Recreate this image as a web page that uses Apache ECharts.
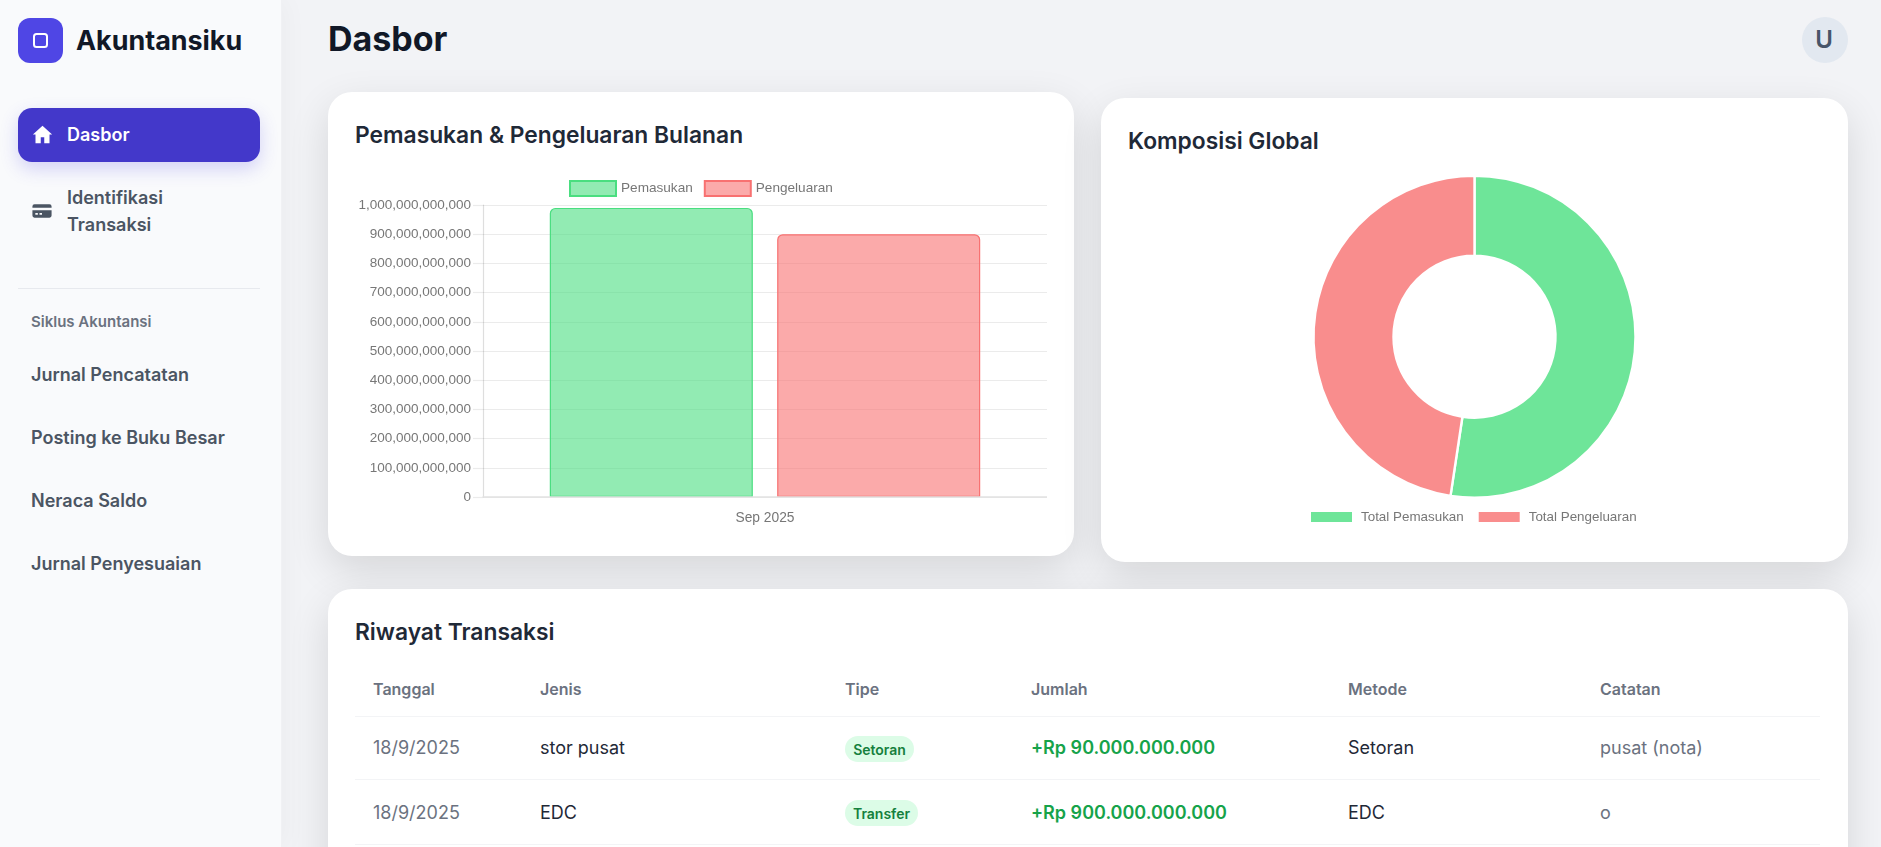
<!DOCTYPE html>
<html lang="id">
<head>
<meta charset="utf-8">
<title>Dasbor - Akuntansiku</title>
<script src="https://cdn.jsdelivr.net/npm/echarts@6/dist/echarts.min.js"></script>
<style>
  html, body { margin: 0; height: 100%; overflow: hidden; }
  body { position: relative; width: 1881px; height: 847px; background: #f2f3f6; font-family: Inter, "Noto Sans", sans-serif; color: #1f2937; }
  .abs { position: absolute; white-space: nowrap; line-height: 1; }
  .sidebar { position: absolute; left: 0; top: 0; width: 282px; height: 847px; background: #f9fafc; border-right: 1px solid #f0f1f4; box-sizing: border-box; box-shadow: 4px 0 24px rgba(0,0,0,.03); }
  .logo { position: absolute; left: 18px; top: 18px; width: 45px; height: 45px; border-radius: 12px; background: #4f46e5; }
  .logo i { position: absolute; left: 15px; top: 15px; width: 15px; height: 15px; box-sizing: border-box; border: 2.5px solid #fff; border-radius: 3.5px; }
  .nav-active { position: absolute; left: 18px; top: 108px; width: 242px; height: 54px; border-radius: 14px; background: #4338ca; box-shadow: 0 7px 18px rgba(79,70,229,.22); }
  .divider { position: absolute; left: 18px; top: 288px; width: 242px; height: 1px; background: #e7e9ee; }
  .nav { font-size: 18px; font-weight: 600; color: #4b5563; transform: translateY(-50%); }
  .card { position: absolute; background: #fff; border-radius: 24px; box-shadow: 0 14px 40px rgba(0,0,0,.12); }
  .card-title { font-size: 22.8px; font-weight: 600; color: #1f2937; transform: translateY(-50%); }
  .chart { position: absolute; }
  .avatar { position: absolute; left: 1802px; top: 17px; width: 46px; height: 46px; border-radius: 50%; background: #e2e8f0; color: #475569; font-size: 24px; font-weight: 600; text-align: center; line-height: 46px; text-indent: -2px; }
  .th { font-size: 16px; font-weight: 600; color: #6b7280; transform: translateY(-50%); }
  .td { font-size: 18px; transform: translateY(-50%); }
  .rule { position: absolute; left: 355px; width: 1465px; height: 1px; background: #f3f4f6; }
  .badge { position: absolute; height: 26px; border-radius: 13px; background: #dcfce7; color: #15803d; font-size: 14px; font-weight: 600; line-height: 27px; text-align: center; }
</style>
</head>
<body>
<div class="sidebar">
  <div class="logo"><i></i></div>
  <div class="abs" style="left:76px;top:40px;transform:translateY(-50%);font-size:26.9px;font-weight:700;color:#111827">Akuntansiku</div>
  <div class="nav-active"></div>
  <svg class="abs" style="left:32px;top:124px" width="21" height="21" viewBox="0 0 24 24"><path fill="#fff" d="M12 2 1 12h3v10h6v-7h4v7h6V12h3z"/></svg>
  <div class="abs nav" style="left:67px;top:135px;color:#fff">Dasbor</div>
  <svg class="abs" style="left:32px;top:201px" width="20" height="20" viewBox="0 0 24 24"><path fill="#4b5563" d="M3 4h18a2.500 2.500 0 0 1 2.500 2.500V8H.5V6.500A2.500 2.500 0 0 1 3 4zM.5 11h23v6.500A2.500 2.500 0 0 1 21 20H3a2.500 2.500 0 0 1-2.500-2.500zM4 14.500v2h3v-2zm5 0v2h3v-2z"/></svg>
  <div class="abs nav" style="left:67px;top:198px">Identifikasi</div>
  <div class="abs nav" style="left:67px;top:225px">Transaksi</div>
  <div class="divider"></div>
  <div class="abs nav" style="left:31px;top:321px;font-size:15px;color:#6b7280">Siklus Akuntansi</div>
  <div class="abs nav" style="left:31px;top:375px">Jurnal Pencatatan</div>
  <div class="abs nav" style="left:31px;top:438px">Posting ke Buku Besar</div>
  <div class="abs nav" style="left:31px;top:501px">Neraca Saldo</div>
  <div class="abs nav" style="left:31px;top:564px">Jurnal Penyesuaian</div>
</div>

<div class="abs" style="left:328px;top:39px;transform:translateY(-50%);font-size:34px;font-weight:700;color:#111827">Dasbor</div>
<div class="avatar">U</div>

<div class="card" style="left:328px;top:92px;width:746px;height:464px">
  <div class="abs card-title" style="left:27px;top:43px">Pemasukan &amp; Pengeluaran Bulanan</div>
</div>
<div class="card" style="left:1101px;top:98px;width:747px;height:464px">
  <div class="abs card-title" style="left:27px;top:43px">Komposisi Global</div>
</div>
<div class="card" style="left:328px;top:589px;width:1520px;height:300px"></div>
<div class="abs card-title" style="left:355px;top:632px">Riwayat Transaksi</div>
<div id="table"></div>

<div class="chart" id="bar" style="left:340px;top:170px;width:707px;height:360px"></div>
<div class="chart" id="donut" style="left:1102px;top:98px;width:746px;height:464px"></div>

<script>
var chartFont = "Liberation Sans";

var months = ["Sep 2025"];
var pemasukan = [990000000000];
var pengeluaran = [900000000000];
var barNames = ["Pemasukan", "Pengeluaran"];
var donutNames = ["Total Pemasukan", "Total Pengeluaran"];
var donutValues = [990000000000, 900000000000];

var tableHeaders = ["Tanggal", "Jenis", "Tipe", "Jumlah", "Metode", "Catatan"];
var tableDates = ["18/9/2025", "18/9/2025"];
var tableJenis = ["stor pusat", "EDC"];
var tableTipe = ["Setoran", "Transfer"];
var tableJumlah = ["+Rp 90.000.000.000", "+Rp 900.000.000.000"];
var tableMetode = ["Setoran", "EDC"];
var tableCatatan = ["pusat (nota)", "o"];

// table is plain html, the columns are just x positions
var colX = [373, 540, 845, 1031, 1348, 1600];
var rowY = [748, 813];
var badgeY = [736, 800];
var badgeW = [69, 73];
var ruleY = [716, 779, 844];
var html = "";
tableHeaders.forEach(function (h, i) {
  html += '<div class="abs th" style="left:' + colX[i] + 'px;top:689px">' + h + "</div>";
});
ruleY.forEach(function (y) {
  html += '<div class="rule" style="top:' + y + 'px"></div>';
});
rowY.forEach(function (y, i) {
  html += '<div class="abs td" style="left:' + colX[0] + "px;top:" + y + 'px;color:#6b7280">' + tableDates[i] + "</div>";
  html += '<div class="abs td" style="left:' + colX[1] + "px;top:" + y + 'px;color:#1f2937">' + tableJenis[i] + "</div>";
  html += '<div class="badge" style="left:' + colX[2] + "px;top:" + badgeY[i] + "px;width:" + badgeW[i] + 'px">' + tableTipe[i] + "</div>";
  html += '<div class="abs td" style="left:' + colX[3] + "px;top:" + y + 'px;color:#16a34a;font-weight:600">' + tableJumlah[i] + "</div>";
  html += '<div class="abs td" style="left:' + colX[4] + "px;top:" + y + 'px;color:#1f2937">' + tableMetode[i] + "</div>";
  html += '<div class="abs td" style="left:' + colX[5] + "px;top:" + y + 'px;color:#6b7280">' + tableCatatan[i] + "</div>";
});
document.getElementById("table").innerHTML = html;

var barChart = echarts.init(document.getElementById("bar"), null, { renderer: "canvas" });
var gridColor = "rgba(0,0,0,0.08)";
var axisColor = "rgba(0,0,0,0.13)";

barChart.setOption({
  animation: false,
  textStyle: { fontFamily: chartFont },
  legend: {
    left: 224,
    top: 5,
    icon: "rect",
    itemWidth: 46,
    itemHeight: 15,
    itemGap: 11,
    data: barNames,
    textStyle: { fontFamily: chartFont, fontSize: 13.6, color: "#777" },
  },
  grid: { left: 143, right: 0, top: 35, height: 292 },
  xAxis: {
    type: "category",
    data: months,
    z: 5,
    axisLine: { lineStyle: { color: "#e2e2e2", width: 1.5 } },
    axisTick: { length: 10, lineStyle: { color: axisColor, width: 1.2 } },
    axisLabel: { fontFamily: chartFont, fontSize: 13.8, color: "#777", margin: 14 },
  },
  yAxis: {
    type: "value",
    min: 0,
    max: 1000000000000,
    interval: 100000000000,
    axisLine: { show: true, lineStyle: { color: axisColor, width: 1.2 } },
    axisTick: { show: true, length: 10, lineStyle: { color: gridColor, width: 1.2 } },
    splitLine: { lineStyle: { color: gridColor, width: 1.2 } },
    axisLabel: {
      fontFamily: chartFont,
      fontSize: 13.5,
      color: "#777",
      margin: 12,
      formatter: function (value) {
        return value.toLocaleString("en-US");
      },
    },
  },
  series: [
    {
      name: barNames[0],
      type: "bar",
      data: pemasukan,
      barWidth: "36%",
      barGap: "12%",
      itemStyle: {
        color: "rgba(74,222,128,0.6)",
        borderColor: "rgba(74,222,128,1)",
        borderWidth: 1.2,
        borderRadius: [5, 5, 0, 0],
      },
    },
    {
      name: barNames[1],
      type: "bar",
      data: pengeluaran,
      barWidth: "36%",
      itemStyle: {
        color: "rgba(248,113,113,0.6)",
        borderColor: "rgba(248,113,113,1)",
        borderWidth: 1.2,
        borderRadius: [5, 5, 0, 0],
      },
    },
  ],
});

var donutChart = echarts.init(document.getElementById("donut"), null, { renderer: "canvas" });
var donutColors = ["rgba(74,222,128,0.8)", "rgba(248,113,113,0.8)"];

donutChart.setOption({
  animation: false,
  textStyle: { fontFamily: chartFont },
  legend: {
    left: 202,
    top: 407,
    icon: "rect",
    itemWidth: 43,
    itemHeight: 12,
    itemGap: 13,
    data: donutNames,
    textStyle: { fontFamily: chartFont, fontSize: 13.4, color: "#777", padding: [0, 0, 0, 3] },
  },
  series: [
    {
      type: "pie",
      center: [372.5, 238.7],
      radius: [81, 161],
      startAngle: 90,
      label: { show: false },
      labelLine: { show: false },
      itemStyle: { borderColor: "#fff", borderWidth: 2.4 },
      data: donutNames.map(function (name, i) {
        return { name: name, value: donutValues[i], itemStyle: { color: donutColors[i] } };
      }),
    },
  ],
});

window.addEventListener("resize", function () {
  barChart.resize();
  donutChart.resize();
});
</script>
</body>
</html>
